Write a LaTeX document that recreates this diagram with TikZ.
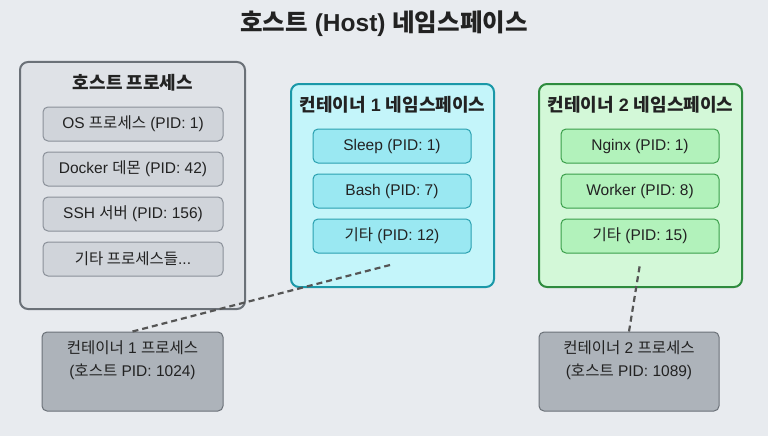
\documentclass[tikz,border=0pt]{standalone}
\usepackage{fontspec}
\setmainfont{Liberation Sans}
\newfontfamily\kr{Noto Sans CJK KR}
\definecolor{bg}{HTML}{E8EBEF}
\definecolor{txt}{HTML}{222222}
\definecolor{hostfill}{HTML}{DFE2E7}
\definecolor{hostline}{HTML}{6B7178}
\definecolor{hostin}{HTML}{D0D4DA}
\definecolor{hostinline}{HTML}{8A9099}
\definecolor{cyfill}{HTML}{C4F5FA}
\definecolor{cyline}{HTML}{1A98A8}
\definecolor{cyin}{HTML}{9AE8F2}
\definecolor{cyinline}{HTML}{2AA0B0}
\definecolor{grfill}{HTML}{D3F8D8}
\definecolor{grline}{HTML}{2E8B3E}
\definecolor{grin}{HTML}{B2F2BB}
\definecolor{grinline}{HTML}{3A9E4A}
\definecolor{procfill}{HTML}{ADB3BA}
\definecolor{dash}{HTML}{555555}
\begin{document}
\begin{tikzpicture}[x=1pt,y=-1pt,
  outerbox/.style={draw, line width=2pt, rounded corners=8pt, inner sep=0pt},
  innerbox/.style={draw, line width=1pt, rounded corners=5pt, inner sep=0pt, minimum height=34pt, text=txt, font=\fontsize{15.5}{18}\selectfont},
  boxtitle/.style={text=txt, font=\fontsize{18}{21}\selectfont\bfseries},
  proctext/.style={text=txt, align=center, font=\fontsize{15.5}{23.5}\selectfont},
  procbox/.style={draw=hostline, fill=procfill, line width=1pt, rounded corners=5pt, minimum height=79pt, inner sep=0pt},
  link/.style={draw=dash, line width=2.2pt, dash pattern=on 6pt off 4pt}
]
\useasboundingbox[fill=bg] (0,0) rectangle (768,436);
\node[text=txt, font=\fontsize{24.5}{28}\selectfont\bfseries] (title) at (384,24) {{\kr 호스트} (Host) {\kr 네임스페이스}};

% host
\node[outerbox, fill=hostfill, draw=hostline, minimum width=225pt, minimum height=247pt] (host) at (132.5,185.5) {};
\node[boxtitle] (hostt) at (133,83) {\kr 호스트 프로세스};
\node[innerbox, fill=hostin, draw=hostinline, minimum width=180pt] (h1) at (133,124) {OS {\kr 프로세스} (PID: 1)};
\node[innerbox, fill=hostin, draw=hostinline, minimum width=180pt] (h2) at (133,169) {Docker {\kr 데몬} (PID: 42)};
\node[innerbox, fill=hostin, draw=hostinline, minimum width=180pt] (h3) at (133,214) {SSH {\kr 서버} (PID: 156)};
\node[innerbox, fill=hostin, draw=hostinline, minimum width=180pt] (h4) at (133,259) {{\kr 기타 프로세스들}...};

% container 1
\node[outerbox, fill=cyfill, draw=cyline, minimum width=203pt, minimum height=203pt] (c1) at (392.5,185.5) {};
\node[boxtitle] (c1t) at (392.5,105) {{\kr 컨테이너} 1 {\kr 네임스페이스}};
\node[innerbox, fill=cyin, draw=cyinline, minimum width=158pt] (a1) at (392,146) {Sleep (PID: 1)};
\node[innerbox, fill=cyin, draw=cyinline, minimum width=158pt] (a2) at (392,191) {Bash (PID: 7)};
\node[innerbox, fill=cyin, draw=cyinline, minimum width=158pt] (a3) at (392,236) {{\kr 기타} (PID: 12)};
\coordinate (c1end) at (390,265);

% container 2
\node[outerbox, fill=grfill, draw=grline, minimum width=203pt, minimum height=203pt] (c2) at (640.5,185.5) {};
\node[boxtitle] (c2t) at (640.5,105) {{\kr 컨테이너} 2 {\kr 네임스페이스}};
\node[innerbox, fill=grin, draw=grinline, minimum width=158pt] (b1) at (640,146) {Nginx (PID: 1)};
\node[innerbox, fill=grin, draw=grinline, minimum width=158pt] (b2) at (640,191) {Worker (PID: 8)};
\node[innerbox, fill=grin, draw=grinline, minimum width=158pt] (b3) at (640,236) {{\kr 기타} (PID: 15)};
\coordinate (c2end) at (640,264);

% process boxes
\node[procbox, minimum width=181pt] (p1) at (132.5,371.5) {};
\node[proctext] (p1t) at (132.5,360) {{\kr 컨테이너} 1 {\kr 프로세스}\\({\kr 호스트} PID: 1024)};
\node[procbox, minimum width=180pt] (p2) at (629,371.5) {};
\node[proctext] (p2t) at (629,360) {{\kr 컨테이너} 2 {\kr 프로세스}\\({\kr 호스트} PID: 1089)};

\draw[link] (p1.north) -- (c1end);
\draw[link] (p2.north) -- (c2end);
\end{tikzpicture}
\end{document}
